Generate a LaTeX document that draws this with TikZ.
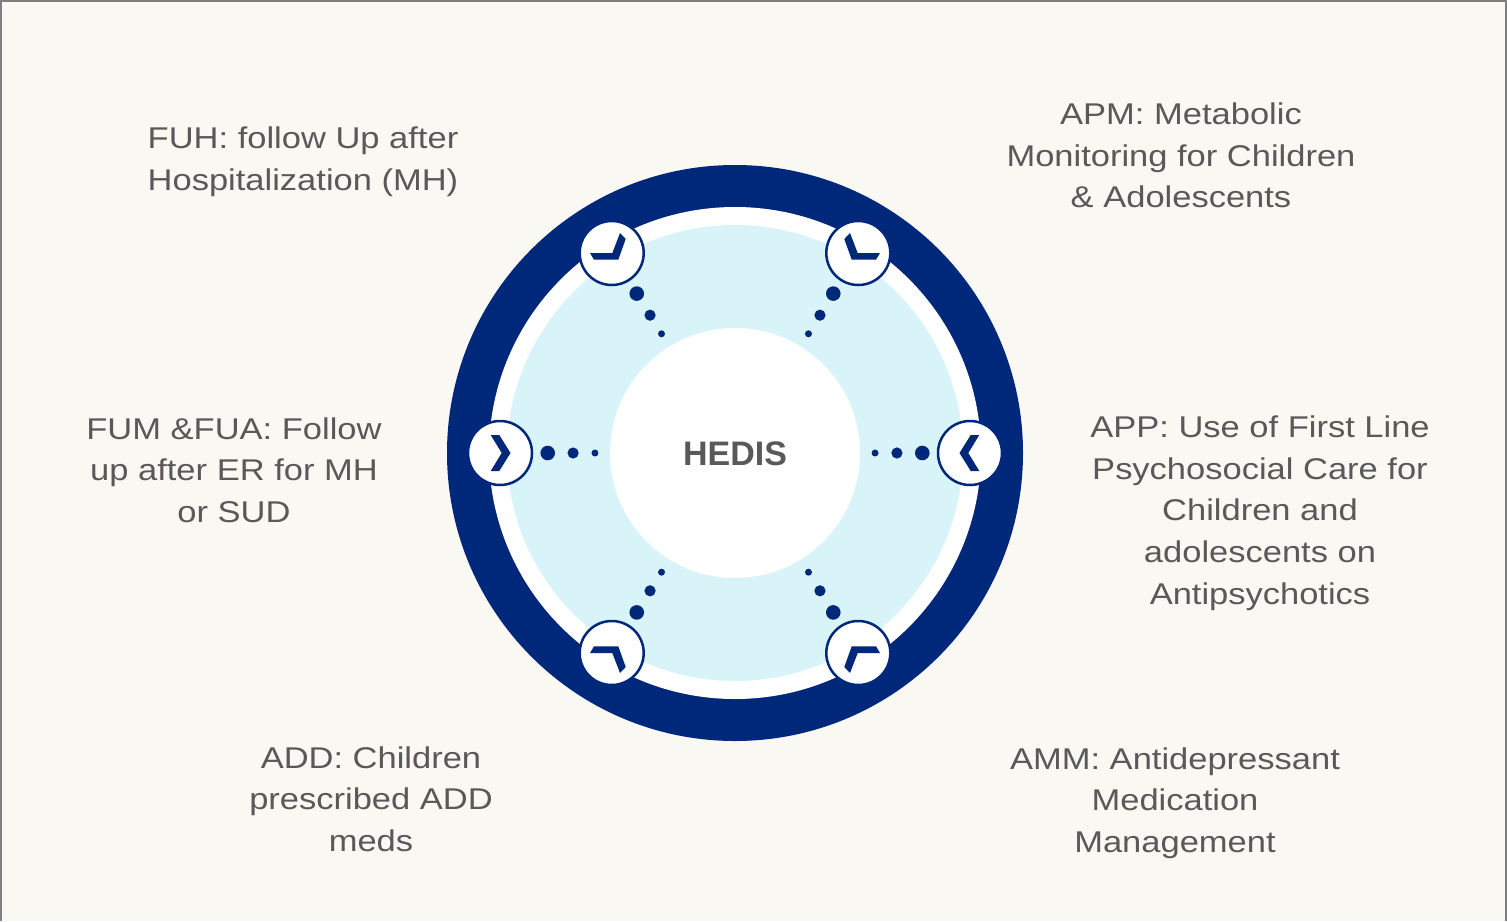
\documentclass[tikz,border=0pt]{standalone}
\usepackage{fontspec}
\usetikzlibrary{calc}
\setmainfont{Liberation Sans}
\newfontfamily\labelfont{Liberation Sans}[FakeStretch=1.15]
\definecolor{navy}{HTML}{00287A}
\definecolor{iceblue}{HTML}{D9F4F9}
\definecolor{paper}{HTML}{F9F8F3}
\definecolor{frame}{HTML}{808080}
\definecolor{ink}{HTML}{595959}
\tikzset{
  lbl/.style={align=center, inner sep=0pt, text=ink,
    font=\labelfont\fontsize{30}{41.7}\selectfont},
  hubtext/.style={inner sep=0pt, text=ink,
    font=\bfseries\fontsize{34}{40}\selectfont},
  iconbox/.style={circle, fill=white, draw=navy, line width=2.5pt,
    minimum size=64pt, inner sep=0pt},
  bigdot/.style={fill=navy},
  diagchev/.pic={\fill[navy] (-21.7,0) -- (0.6,0) -- (8.3,-20) -- (14,-14)
      -- (6.6,6.7) -- (-17.7,6.7) -- cycle;},
  sidechev/.pic={\fill[navy] (-9.3,-18) -- (-0.7,-18) -- (10.5,0)
      -- (-0.7,18) -- (-9.3,18) -- (1.7,0) -- cycle;}
}
\begin{document}
\begin{tikzpicture}[x=1pt, y=-1pt]
  % canvas and frame
  \fill[paper] (0,0) rectangle (1507,921);
  \useasboundingbox (0,0) rectangle (1507,921);
  \draw[frame, line width=2pt] (1,921) -- (1,1) -- (1506,1) -- (1506,921);

  % concentric rings
  \coordinate (c) at (735,453);
  \fill[navy] (c) circle[radius=288];
  \fill[white] (c) circle[radius=246];
  \fill[iceblue] (c) circle[radius=228];
  \node[circle, fill=white, minimum size=250pt, inner sep=0pt] (hubdisc) at (c) {};
  \node[hubtext] (hub) at (735,454) {HEDIS};

  % icon badges on the ring
  \node[iconbox] (w)  at (500,453) {};
  \node[iconbox] (e)  at (970,453) {};
  \node[iconbox] (nw) at (611.7,253) {};
  \node[iconbox] (ne) at (858.3,253) {};
  \node[iconbox] (sw) at (611.7,653) {};
  \node[iconbox] (se) at (858.3,653) {};

  % chevrons inside the badges
  \pic at (w) {sidechev};
  \pic[xscale=-1] at (e) {sidechev};
  \pic at (nw) {diagchev};
  \pic[xscale=-1] at (ne) {diagchev};
  \pic[yscale=-1] at (sw) {diagchev};
  \pic[xscale=-1, yscale=-1] at (se) {diagchev};

  % dotted links from the hub to each badge
  \foreach \b in {w,e,nw,ne,sw,se}{
    \fill[bigdot] ($(c)!0.596!(\b)$) circle[radius=3.5];
    \fill[bigdot] ($(c)!0.689!(\b)$) circle[radius=5.6];
    \fill[bigdot] ($(c)!0.797!(\b)$) circle[radius=7.3];
  }

  % measure labels
  \node[lbl] (fuh) at (303,162) {FUH: follow Up after\\Hospitalization (MH)};
  \node[lbl] (apm) at (1181,155.5) {APM: Metabolic\\Monitoring for Children\\\& Adolescents};
  \node[lbl] (fum) at (234,470) {FUM \&FUA: Follow\\up after ER for MH\\or SUD};
  \node[lbl] (app) at (1260,513) {APP: Use of First Line\\Psychosocial Care for\\Children and\\adolescents on\\Antipsychotics};
  \node[lbl] (add) at (371,799) {ADD: Children\\prescribed ADD\\meds};
  \node[lbl] (amm) at (1175,803) {AMM: Antidepressant\\Medication\\Management};
\end{tikzpicture}
\end{document}
